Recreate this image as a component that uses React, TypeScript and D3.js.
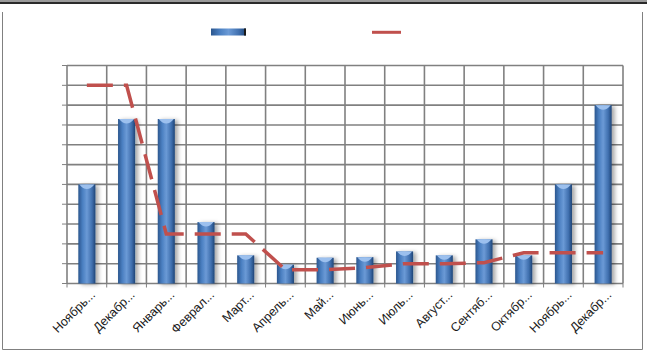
import React from "react";
import * as d3 from "d3";

const months = [
  "Ноябрь...", "Декабр...", "Январь...", "Феврал...", "Март...", "Апрель...", "Май...",
  "Июнь...", "Июль...", "Август...", "Сентяб...", "Октябр...", "Ноябрь...", "Декабр...",
];
const barValues = [5, 8.3, 8.3, 3.1, 1.42, 0.95, 1.3, 1.33, 1.62, 1.42, 2.23, 1.42, 5.0, 9.0];
const lineValues = [10, 10, 2.5, 2.5, 2.5, 0.7, 0.7, 0.8, 1.0, 1.0, 1.05, 1.55, 1.55, 1.55];
const yTicks = d3.range(0, 12);

const W = 647;
const H = 351;
const plot = { left: 67, right: 623, top: 65.5, bottom: 283.5 };

const App = () => {
  const x = d3
    .scaleBand<string>()
    .domain(months.map((m, i) => i + ""))
    .range([plot.left, plot.right])
    .paddingInner(0.57)
    .paddingOuter(0.285);
  const y = d3.scaleLinear().domain([0, 11]).range([plot.bottom, plot.top]);
  const step = x.step();
  const bw = x.bandwidth();
  const cx = (i: number) => (x(i + "") as number) + bw / 2;

  const line = d3
    .line<number>()
    .x((d, i) => cx(i))
    .y((d) => y(d));

  const grid = "#808080";

  return (
    <svg width={W} height={H} style={{ position: "absolute", left: 0, top: 0, fontFamily: "Liberation Sans, Arial, sans-serif" }}>
      <defs>
        <linearGradient id="barGrad" x1="0" x2="1" y1="0" y2="0">
          <stop offset="0" stopColor="#2b568e" />
          <stop offset="0.25" stopColor="#4a7fc1" />
          <stop offset="0.5" stopColor="#6b9ad6" />
          <stop offset="0.8" stopColor="#3f6fae" />
          <stop offset="1" stopColor="#1f4577" />
        </linearGradient>
        <filter id="shadow" x="-50%" y="-10%" width="200%" height="120%">
          <feDropShadow dx="3" dy="1" stdDeviation="2" floodColor="#000" floodOpacity="0.35" />
        </filter>
      </defs>
      <rect width={W} height={H} fill="#fff" />
      {/* page rule at top */}
      <rect x={0} y={0} width={W} height={2} fill="#9a9a9a" />
      <line x1={0} x2={W} y1={3} y2={3} stroke="#2a2a2a" strokeWidth={2} />
      {/* chart frame */}
      <path d={`M2.5,12V349.5H642.5V12`} fill="none" stroke={grid} strokeWidth={1} />

      {/* horizontal grid + y ticks */}
      {yTicks.map((t) => (
        <g key={"h" + t}>
          <line x1={plot.left} x2={plot.right} y1={y(t)} y2={y(t)} stroke={grid} strokeWidth={1.6} />
          <line x1={plot.left - 5} x2={plot.left} y1={y(t)} y2={y(t)} stroke={grid} strokeWidth={1} />
        </g>
      ))}
      {/* vertical grid + x ticks */}
      {d3.range(0, months.length + 1).map((i) => {
        const gx = plot.left + i * step;
        return (
          <g key={"v" + i}>
            <line x1={gx} x2={gx} y1={plot.top} y2={plot.bottom} stroke={grid} strokeWidth={1.6} />
            <line x1={gx} x2={gx} y1={plot.bottom} y2={plot.bottom + 4} stroke={grid} strokeWidth={1} />
          </g>
        );
      })}

      {/* bars */}
      {barValues.map((v, i) => {
        const bx = x(i + "") as number;
        const top = y(v);
        return (
          <g key={"b" + i}>
            <rect x={bx} y={top} width={bw} height={plot.bottom - top} fill="url(#barGrad)" filter="url(#shadow)" />
            <path
              d={`M${bx + 1},${top}L${bx + bw - 1},${top}Q${bx + bw / 2},${top + 9} ${bx + 1},${top}Z`}
              fill="#9cc0ee"
            />
          </g>
        );
      })}

      {/* dashed line */}
      <path
        d={line(lineValues) as string}
        fill="none"
        stroke="#c0504d"
        strokeWidth={3.5}
        strokeDasharray="26,11"
      />

      {/* x labels */}
      {months.map((m, i) => (
        <text
          key={"l" + i}
          transform={`translate(${cx(i) + 9},${plot.bottom + 12}) rotate(-45)`}
          textAnchor="end"
          fontSize={12.5}
          fill="#1a1a1a"
        >
          {m}
        </text>
      ))}

      {/* legend */}
      <rect x={211} y={28.5} width={35} height={7} fill="url(#barGrad)" />
      <rect x={244} y={28.5} width={2} height={7} fill="#1a1a1a" />
      <line x1={372} x2={401} y1={32.3} y2={32.3} stroke="#c0504d" strokeWidth={3} />
    </svg>
  );
};

export default App;
